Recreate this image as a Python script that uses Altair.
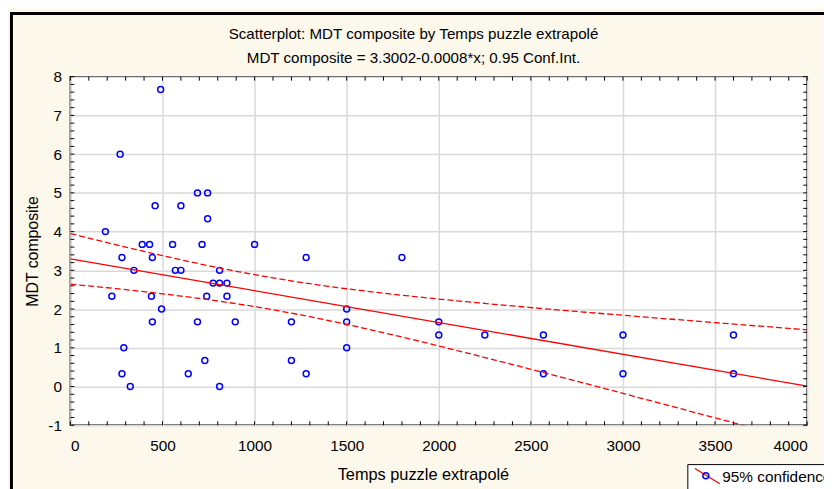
import altair as alt
import numpy as np
import pandas as pd

# ---- data ----
temps = [490, 270, 690, 745, 460, 600, 745, 190, 390, 430, 555, 715, 1000,
         280, 445, 1280, 345, 570, 600, 810, 775, 810, 850, 225, 440, 740,
         850, 495, 445, 690, 895, 1200, 290, 730, 1200, 280, 640, 1280, 325,
         810, 1800, 1500, 1500, 1500, 2000, 2000, 2250, 2568, 2568, 3000,
         3000, 3600, 3600]
mdt = [7.67, 6.00, 5.00, 5.00, 4.67, 4.67, 4.33, 4.00, 3.67, 3.67, 3.67,
       3.67, 3.67, 3.33, 3.33, 3.33, 3.00, 3.00, 3.00, 3.00, 2.67, 2.67,
       2.67, 2.33, 2.33, 2.33, 2.33, 2.00, 1.67, 1.67, 1.67, 1.67, 1.00,
       0.67, 0.67, 0.33, 0.33, 0.33, 0.00, 0.00, 3.33, 2.00, 1.67, 1.00,
       1.67, 1.33, 1.33, 1.33, 0.33, 1.33, 0.33, 1.33, 0.33]

x_ticks = [0, 500, 1000, 1500, 2000, 2500, 3000, 3500, 4000]
y_ticks = [-1, 0, 1, 2, 3, 4, 5, 6, 7, 8]
x_minor = list(range(0, 4001, 100))
y_minor = [round(-1 + 0.2 * i, 1) for i in range(46)]

title_lines = ["Scatterplot: MDT composite by Temps puzzle extrapolé",
               "MDT composite = 3.3002-0.0008*x; 0.95 Conf.Int."]
x_title = "Temps puzzle extrapolé"
y_title = "MDT composite"
legend_label = "95% confidence"

FONT = "Liberation Sans"
W, H = 744, 352

pts = pd.DataFrame({"temps": temps, "mdt": mdt})

# ---- regression and 95% confidence band computed from the points ----
xa = np.array(temps, float)
ya = np.array(mdt, float)
n = len(xa)
b, a = np.polyfit(xa, ya, 1)
resid = ya - (a + b * xa)
s = np.sqrt(np.sum(resid ** 2) / (n - 2))
sxx = np.sum((xa - xa.mean()) ** 2)
t975 = 2.0076  # Student t, df = 51
grid = np.linspace(0, 4000, 81)
fit = a + b * grid
half = t975 * s * np.sqrt(1.0 / n + (grid - xa.mean()) ** 2 / sxx)
band = pd.DataFrame({"temps": np.r_[grid, grid],
                     "mdt": np.r_[fit - half, fit + half],
                     "side": ["lower"] * len(grid) + ["upper"] * len(grid)})

xs = alt.Scale(domain=[0, 4000], nice=False, zero=False)
ys = alt.Scale(domain=[-1, 8], nice=False, zero=False)

x_axis = alt.Axis(values=x_ticks, labelExpr="'' + datum.value", grid=True,
                  gridColor="#D9D9D9", gridWidth=1.5, ticks=False, domain=False,
                  labelOverlap=False,
                  labelFont=FONT, labelFontSize=15.5, labelColor="black",
                  labelPadding=13, title=x_title, titleFont=FONT,
                  titleFontSize=16.5, titleFontWeight="normal", titleColor="black",
                  titleX=356, titleY=50, titleBaseline="middle", titleAlign="center")
y_axis = alt.Axis(values=y_ticks, labelExpr="'' + datum.value", grid=True,
                  gridColor="#D9D9D9", gridWidth=1.5, ticks=False, domain=False,
                  labelOverlap=False,
                  labelFont=FONT, labelFontSize=15.5, labelColor="black",
                  labelPadding=9, title=y_title, titleFont=FONT,
                  titleFontSize=16, titleFontWeight="normal", titleColor="black",
                  titleX=-38, titleY=176, titleBaseline="middle", titleAlign="center")

X = alt.X("temps:Q", scale=xs, axis=x_axis)
Y = alt.Y("mdt:Q", scale=ys, axis=y_axis)

scatter = alt.Chart(pts).mark_point(
    shape="circle", filled=False, color="#0000FF", size=36, strokeWidth=1.5,
    opacity=1
).encode(x=X, y=Y)

reg = alt.Chart(pts).transform_regression(
    "temps", "mdt", extent=[0, 4000]
).mark_line(color="#FF0000", strokeWidth=1.3, clip=True).encode(x=X, y=Y)

bands = alt.Chart(band).mark_line(
    color="#FF0000", strokeWidth=1.3, strokeDash=[6, 3], clip=True
).encode(x=X, y=Y, detail="side:N")

# inward ticks on all four sides
xm = pd.DataFrame({"temps": x_minor})
ym = pd.DataFrame({"mdt": y_minor})
tick_style = dict(color="black", strokeWidth=1)
t_bottom = alt.Chart(xm).mark_rule(**tick_style).encode(
    x=X, y=alt.value(H), y2=alt.value(H - 4))
t_top = alt.Chart(xm).mark_rule(**tick_style).encode(
    x=X, y=alt.value(0), y2=alt.value(4))
t_left = alt.Chart(ym).mark_rule(**tick_style).encode(
    y=Y, x=alt.value(0), x2=alt.value(4))
t_right = alt.Chart(ym).mark_rule(**tick_style).encode(
    y=Y, x=alt.value(W), x2=alt.value(W - 4))

one = pd.DataFrame({"label": [legend_label]})
outer = alt.Chart(one).mark_rect(
    filled=False, stroke="black", strokeWidth=3, clip=False
).encode(x=alt.value(-59.5), y=alt.value(-63.7), x2=alt.value(900), y2=alt.value(600))

titles = pd.DataFrame({"t": title_lines, "yy": [-43, -19]})
title_txt = alt.Chart(titles).mark_text(
    font=FONT, fontSize=15.3, align="center", baseline="middle", color="black", clip=False
).encode(x=alt.value(346.5), y=alt.Y("yy:Q", scale=None), text="t:N")

leg_box = alt.Chart(one).mark_rect(
    fill="white", stroke="black", strokeWidth=1, clip=False
).encode(x=alt.value(623.5), y=alt.value(391.7), x2=alt.value(900), y2=alt.value(600))
leg_line = alt.Chart(one).mark_rule(color="#FF0000", strokeWidth=1.3, clip=False).encode(
    x=alt.value(630.7), y=alt.value(395.7), x2=alt.value(655.7), y2=alt.value(411))
leg_pt = alt.Chart(one).mark_point(
    shape="circle", filled=False, color="#0000FF", size=36, strokeWidth=1.5,
    opacity=1, clip=False
).encode(x=alt.value(641.7), y=alt.value(403))
leg_txt = alt.Chart(one).mark_text(
    font=FONT, fontSize=15.5, align="left", baseline="alphabetic", color="black", clip=False
).encode(x=alt.value(658.3), y=alt.value(409), text="label:N")

chart = alt.layer(
    outer, scatter, bands, reg, t_bottom, t_top, t_left, t_right,
    leg_box, leg_line, leg_pt, leg_txt, title_txt
).properties(
    width=W, height=H,
    autosize=alt.AutoSizeParams(type="none"),
    padding={"left": 63, "top": 67, "right": 17, "bottom": 62},
    background="#FCF8EC",
).configure_view(fill="white", stroke="black", strokeWidth=1.5
).configure_axis(labelOverlap=False)

chart.save("out.html", embed_options={"renderer": "svg", "actions": False})
